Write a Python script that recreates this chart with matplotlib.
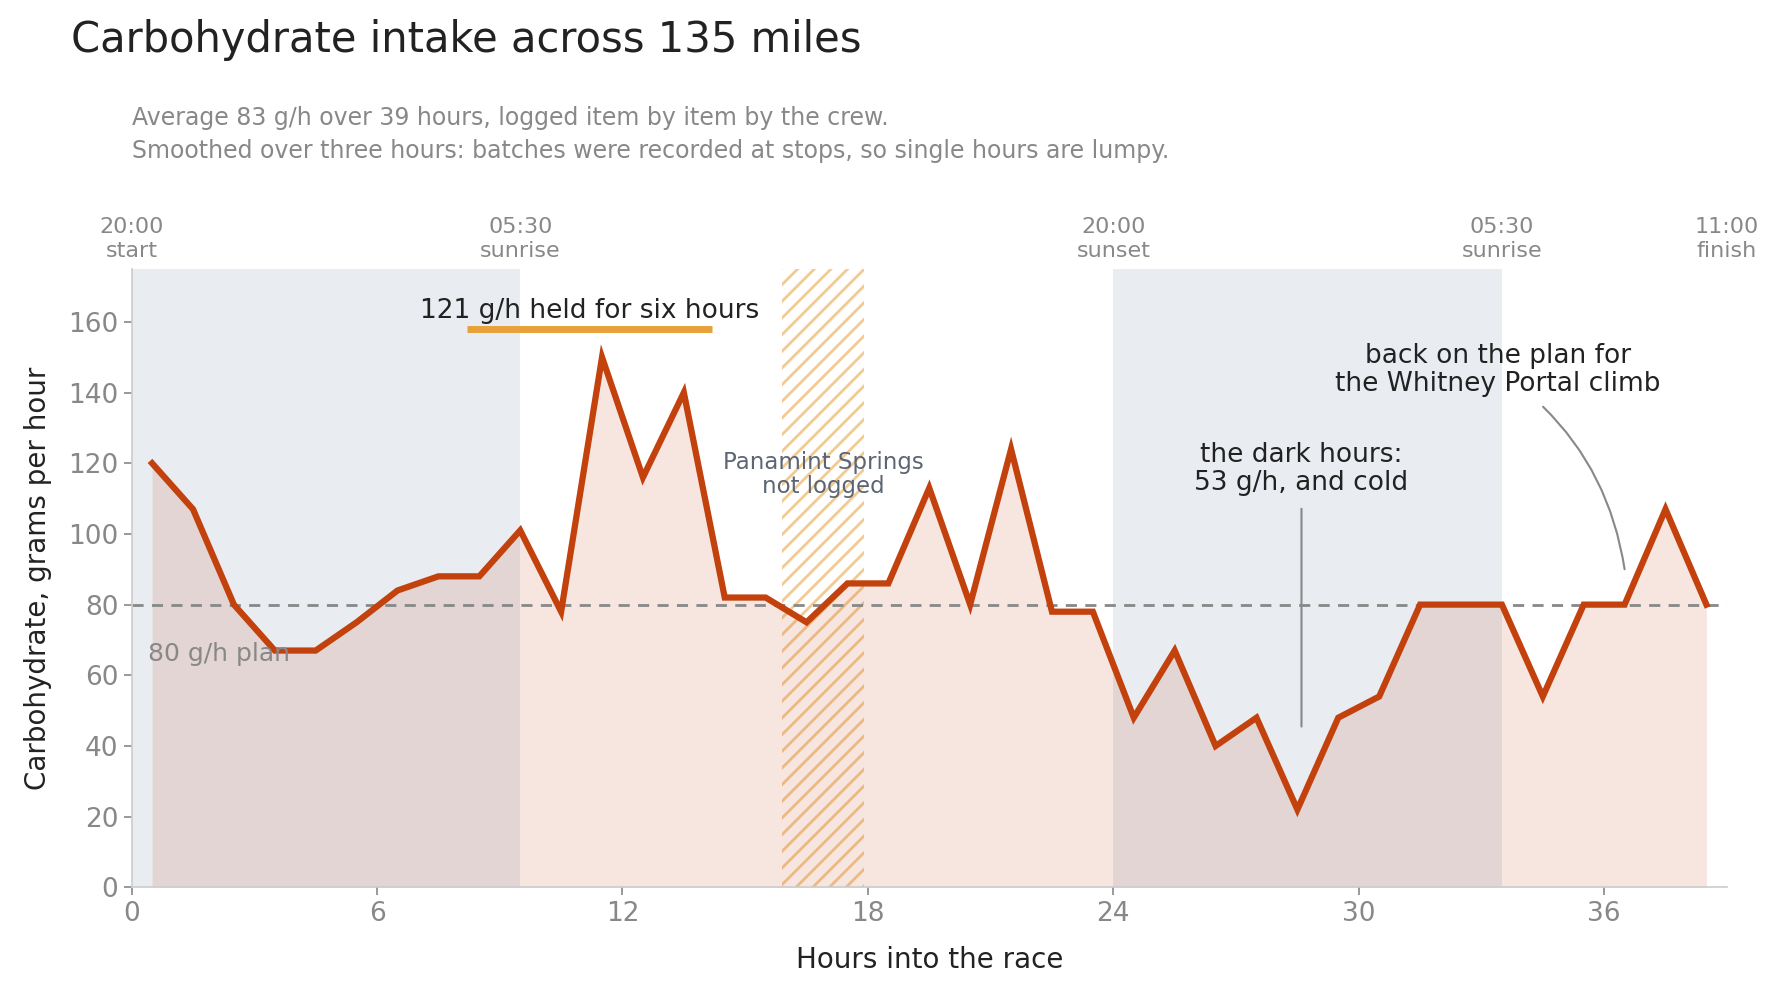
import matplotlib
matplotlib.use("Agg")
import matplotlib.pyplot as plt
import numpy as np

# hourly carbohydrate intake, 3-hour smoothed (g/h), plotted at mid-hour
hours = np.arange(0.5, 39.0, 1.0)
carbs = [120, 107, 80, 67, 67, 75, 84, 88, 88, 101,
         78, 150, 116, 140, 82, 82, 75, 86, 86, 113,
         80, 124, 78, 78, 48, 67, 40, 48, 22, 48,
         54, 80, 80, 80, 54, 80, 80, 107, 80]

plan = 80
night_spans = [(0, 9.5), (24, 33.5)]
gap_span = (15.9, 17.9)
held_span = (8.2, 14.2)
held_level = 158

clock_pos = [0, 9.5, 24, 33.5, 39]
clock_labels = ["20:00\nstart", "05:30\nsunrise", "20:00\nsunset",
                "05:30\nsunrise", "11:00\nfinish"]

line_col = "#c2410c"
grey = "#888888"
dark = "#222222"

plt.rcParams["hatch.linewidth"] = 2.0

fig = plt.figure(figsize=(17.79, 9.94), dpi=100)
ax = fig.add_axes([0.074, 0.1073, 0.8967, 0.6222])

for a, b in night_spans:
    ax.axvspan(a, b, color="#e9ecf1", lw=0, zorder=0)

# hatched gap where nothing was logged
ax.axvspan(gap_span[0], gap_span[1], facecolor="none", edgecolor="#e8a13a",
           hatch="//", lw=0, alpha=0.55, zorder=0.5)

ax.fill_between(hours, carbs, 0, color=line_col, alpha=0.13, lw=0, zorder=1)
ax.plot(hours, carbs, color=line_col, lw=4.5, zorder=3, solid_joinstyle="miter")

ax.axhline(plan, color=grey, lw=2, ls=(0, (4, 3)), zorder=2)
ax.text(0.4, 66, "80 g/h plan", color=grey, fontsize=18, va="center", ha="left")

ax.plot(held_span, [held_level, held_level], color="#e8a13a", lw=5,
        solid_capstyle="butt", zorder=3)
ax.text(sum(held_span) / 2, 163, "121 g/h held for six hours", color=dark,
        fontsize=19, ha="center", va="center")

ax.text(16.9, 116.8, "Panamint Springs\nnot logged", color="#5b6573",
        fontsize=16.5, ha="center", va="center", linespacing=1.1)

ax.annotate("the dark hours:\n53 g/h, and cold", xy=(28.6, 45.5),
            xytext=(28.6, 118.3), ha="center", va="center", fontsize=19,
            color=dark, linespacing=1.1,
            arrowprops=dict(arrowstyle="-", color=grey, lw=1.5,
                            shrinkA=7, shrinkB=0))

ax.annotate("back on the plan for\nthe Whitney Portal climb", xy=(36.5, 90),
            xytext=(33.4, 146.3), ha="center", va="center", fontsize=19,
            color=dark, linespacing=1.1,
            arrowprops=dict(arrowstyle="-", color=grey, lw=1.5,
                            shrinkA=7, shrinkB=0,
                            connectionstyle="arc3,rad=-0.22"))

ax.set_xlim(0, 39)
ax.set_ylim(0, 175)
ax.set_xticks(np.arange(0, 37, 6))
ax.set_yticks(np.arange(0, 161, 20))
ax.tick_params(colors=grey, labelsize=19, length=6, width=1.2)
for s in ["top", "right"]:
    ax.spines[s].set_visible(False)
for s in ["left", "bottom"]:
    ax.spines[s].set_color("#cccccc")
    ax.spines[s].set_linewidth(1.2)

ax.set_xlabel("Hours into the race", fontsize=20, color=dark, labelpad=14)
ax.set_ylabel("Carbohydrate, grams per hour", fontsize=20, color=dark, labelpad=12)

top = ax.secondary_xaxis("top")
top.set_xticks(clock_pos, clock_labels)
top.tick_params(length=0, pad=6, labelsize=16, colors=grey)
top.spines["top"].set_visible(False)

fig.text(0.040, 0.960, "Carbohydrate intake across 135 miles", fontsize=30,
         color=dark, ha="left", va="center")
fig.text(0.074, 0.881, "Average 83 g/h over 39 hours, logged item by item by the crew.",
         fontsize=17, color=grey, ha="left", va="center")
fig.text(0.074, 0.848, "Smoothed over three hours: batches were recorded at stops, "
         "so single hours are lumpy.", fontsize=17, color=grey, ha="left", va="center")

fig.savefig("out.png", dpi=100)
